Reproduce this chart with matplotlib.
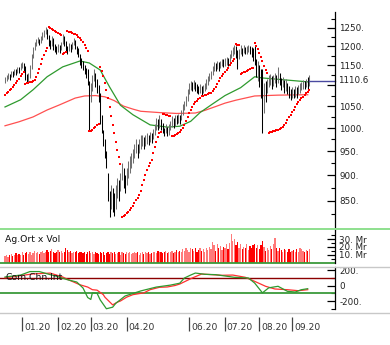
import matplotlib
matplotlib.use("Agg")
import matplotlib.pyplot as plt
from matplotlib.lines import Line2D
from matplotlib.ticker import FixedLocator, FixedFormatter, NullFormatter
import matplotlib.transforms as mtransforms
import numpy as np

# ---------------- data (one value per trading day) ----------------
closes = [
    1112, 1118, 1125, 1120, 1130, 1128, 1135, 1132, 1140, 1138,
    1148, 1152, 1145, 1125, 1112, 1120, 1140, 1170, 1190, 1205,
    1212, 1218, 1210, 1222, 1230, 1238, 1245, 1232, 1215, 1205,
    1220, 1200, 1195, 1190, 1198, 1192, 1205, 1225, 1215, 1198,
    1190, 1200, 1195, 1205, 1215, 1205, 1190, 1185, 1165, 1155,
    1148, 1138, 1130, 1120, 1060, 1090, 1115, 1125, 1110, 1095,
    1085, 1050, 1010, 975, 955, 930, 870, 840, 860, 850,
    835, 860, 880, 870, 895, 910, 890, 880, 900, 915,
    925, 935, 945, 955, 960, 950, 965, 970, 975, 968,
    975, 980, 972, 985, 978, 990, 1000, 1010, 1005, 1015,
    1010, 995, 990, 1000, 992, 998, 1008, 1015, 1010, 1020,
    1018, 1025, 1020, 1030, 1045, 1055, 1065, 1080, 1095, 1100,
    1095, 1105, 1098, 1090, 1088, 1095, 1085, 1092, 1098, 1105,
    1115, 1122, 1128, 1140, 1148, 1145, 1152, 1145, 1155, 1158,
    1152, 1160, 1165, 1158, 1170, 1180, 1188, 1195, 1185, 1165,
    1180, 1190, 1185, 1195, 1188, 1192, 1198, 1190, 1185, 1175,
    1160, 1130, 1145, 1120, 1080, 1050, 1090, 1085, 1100, 1110,
    1118, 1105, 1112, 1120, 1108, 1125, 1115, 1100, 1108, 1095,
    1100, 1092, 1080, 1075, 1085, 1078, 1088, 1082, 1092, 1095,
    1098, 1105, 1100, 1108, 1102, 1110.6,
]
highs = [
    1120, 1125, 1130, 1128, 1136, 1135, 1140, 1140, 1145, 1145,
    1155, 1158, 1155, 1148, 1128, 1130, 1150, 1178, 1198, 1212,
    1220, 1225, 1220, 1228, 1238, 1245, 1252, 1248, 1230, 1218,
    1228, 1222, 1205, 1200, 1205, 1202, 1212, 1232, 1228, 1215,
    1200, 1208, 1205, 1212, 1222, 1218, 1200, 1195, 1180, 1168,
    1160, 1150, 1142, 1140, 1110, 1105, 1125, 1140, 1130, 1115,
    1100, 1080, 1030, 995, 975, 950, 905, 870, 880, 875,
    865, 880, 895, 890, 905, 925, 915, 900, 915, 930,
    940, 945, 955, 965, 975, 965, 975, 985, 985, 980,
    985, 990, 985, 992, 990, 998, 1010, 1022, 1020, 1030,
    1020, 1012, 1000, 1008, 1003, 1008, 1015, 1028, 1022, 1030,
    1030, 1032, 1030, 1040, 1055, 1062, 1075, 1090, 1105, 1110,
    1108, 1112, 1108, 1102, 1098, 1102, 1098, 1100, 1105, 1115,
    1122, 1130, 1135, 1148, 1158, 1155, 1160, 1158, 1162, 1165,
    1165, 1168, 1172, 1170, 1178, 1190, 1198, 1202, 1200, 1190,
    1192, 1204, 1195, 1202, 1198, 1200, 1204, 1200, 1198, 1195,
    1200, 1165, 1160, 1150, 1140, 1140, 1105, 1110, 1115, 1125,
    1128, 1122, 1125, 1130, 1125, 1145, 1130, 1118, 1120, 1112,
    1115, 1105, 1098, 1092, 1095, 1090, 1098, 1095, 1100, 1105,
    1108, 1112, 1110, 1115, 1120, 1125,
]
lows = [
    1105, 1110, 1115, 1112, 1120, 1120, 1125, 1125, 1130, 1130,
    1138, 1142, 1135, 1112, 1106, 1108, 1118, 1140, 1168, 1190,
    1200, 1208, 1202, 1208, 1218, 1225, 1232, 1220, 1200, 1192,
    1200, 1190, 1185, 1180, 1185, 1182, 1190, 1205, 1200, 1188,
    1180, 1188, 1185, 1192, 1202, 1192, 1180, 1172, 1150, 1142,
    1138, 1128, 1118, 1100, 993, 1060, 1085, 1110, 1095, 1080,
    1060, 1010, 990, 960, 935, 915, 850, 820, 835, 830,
    822, 835, 855, 850, 870, 890, 875, 865, 880, 895,
    905, 915, 925, 935, 945, 935, 945, 955, 960, 955,
    960, 965, 962, 970, 968, 975, 985, 995, 995, 1000,
    995, 988, 982, 988, 983, 985, 995, 1002, 1000, 1005,
    1008, 1012, 1010, 1018, 1030, 1040, 1050, 1062, 1078, 1088,
    1085, 1090, 1085, 1080, 1078, 1082, 1075, 1080, 1085, 1090,
    1100, 1110, 1115, 1125, 1135, 1135, 1140, 1135, 1142, 1148,
    1145, 1148, 1152, 1148, 1155, 1168, 1175, 1180, 1170, 1140,
    1165, 1178, 1175, 1182, 1178, 1180, 1185, 1178, 1172, 1160,
    1150, 1120, 1110, 1095, 1070, 990, 1035, 1060, 1080, 1095,
    1100, 1092, 1098, 1105, 1095, 1105, 1100, 1088, 1095, 1080,
    1085, 1078, 1068, 1065, 1070, 1068, 1072, 1070, 1078, 1082,
    1088, 1092, 1090, 1095, 1092, 1098,
]
sar = [
    1076, 1080, 1084, 1088, 1092, 1096, 1101, 1106, 1111, 1116, 1122, 1128, 1134,
    1104, 1105, 1106, 1107, 1109, 1111, 1114, 1120, 1130, 1141, 1153, 1165, 1177, 1188, 1196,
    1252, 1250, 1248, 1245, 1242, 1239, 1236, 1233, 1230,
    1180, 1182, 1185,
    1240, 1239, 1238, 1236, 1234, 1232, 1229, 1226, 1222, 1217, 1211, 1204, 1196, 1187,
    993, 994, 996, 999, 1002, 1006, 1010,
    1145, 1135, 1122, 1106, 1088, 1068, 1047, 1026, 1006, 988, 970, 953, 937, 923,
    820, 822, 824, 827, 830, 833, 837, 841, 846, 851, 856, 862, 870, 880, 890, 900,
    910, 918, 925, 932, 945, 958, 970, 980, 988, 992,
    1032, 1031, 1030, 1029, 1028, 1027,
    982, 983, 984, 986, 988, 991, 995, 1000, 1007, 1015, 1024, 1033, 1041, 1048,
    1054, 1059, 1063, 1066, 1070, 1073, 1075, 1076, 1077, 1078, 1080, 1082, 1085,
    1090, 1096, 1103, 1110, 1117, 1124, 1128, 1132, 1138, 1143, 1150, 1156, 1162, 1166,
    1205, 1204, 1202,
    1128, 1130, 1132, 1134, 1136, 1138, 1140, 1142, 1144,
    1208, 1200, 1192, 1182, 1172, 1160, 1148, 1138, 1130,
    990, 991, 992, 993, 994, 995, 996, 998, 1000, 1003, 1007, 1012, 1018, 1024,
    1030, 1036, 1042, 1048, 1054, 1059, 1064, 1068, 1072, 1076, 1080, 1084, 1088,
]
volume = [  # millions
    8, 10, 7, 9, 11, 8, 10, 12, 9, 11, 10, 13, 9, 12, 14, 11, 13, 10, 12, 15,
    12, 14, 11, 13, 15, 12, 14, 16, 13, 15, 17, 13, 12, 14, 16, 13, 15, 12, 14, 18,
    16, 13, 15, 12, 14, 13, 15, 12, 14, 13, 12, 14, 11, 13, 15, 12, 14, 11, 13, 12,
    11, 13, 12, 14, 10, 12, 13, 11, 14, 12, 13, 11, 12, 14, 10, 13, 12, 11, 14, 12,
    13, 11, 12, 14, 12, 13, 10, 12, 13, 11, 14, 12, 13, 11, 12, 14, 13, 12, 15, 13,
    14, 12, 13, 15, 12, 14, 13, 15, 12, 14, 16, 13, 15, 14, 17, 15, 18, 16, 14, 19,
    17, 15, 18, 14, 16, 19, 15, 17, 14, 18, 16, 20, 17, 26, 22, 15, 24, 18, 21, 16,
    20, 18, 23, 17, 25, 36, 28, 30, 22, 26, 18, 24, 17, 20, 19, 23, 16, 21, 18, 22,
    24, 19, 22, 17, 22, 27, 20, 15, 18, 16, 21, 17, 23, 31, 19, 15, 18, 16, 14, 17,
    16, 14, 17, 13, 15, 16, 14, 17, 13, 19, 17, 15, 14, 16, 15, 17,
]
ma50_day = [0, 10, 18, 27, 37, 48, 54, 61, 67, 74, 82, 93, 104, 112, 119, 125, 133,
            141, 151, 160, 165, 180, 195]
ma50_val = [1048, 1065, 1089, 1121, 1146, 1161, 1156, 1138, 1096, 1052, 1030, 1007,
            1002, 1004, 1015, 1035, 1055, 1075, 1094, 1121, 1118, 1113, 1108]
ma200_day = [0, 9, 18, 27, 35, 45, 51, 58, 64, 70, 76, 82, 87, 99, 110, 122, 128, 135,
             141, 148, 154, 160, 175, 194]
ma200_val = [1005, 1014, 1025, 1041, 1053, 1069, 1074, 1075, 1072, 1063, 1050, 1043,
             1038, 1035, 1033, 1034, 1040, 1049, 1057, 1064, 1069, 1074, 1076, 1077]
cci_day = [0, 10, 16, 22, 29, 33, 40, 46, 50, 53, 55, 56, 59, 61, 65, 69, 71, 77, 87,
           97, 106, 112, 115, 119, 122, 128, 135, 147, 156, 160, 165, 169, 175, 181,
           186, 190, 194]
cci_val = [110, 135, 180, 180, 140, 120, 75, 45, -32, -155, -180, -95, -100, -185,
           -300, -280, -230, -135, -70, -20, 5, 30, 97, 135, 161, 145, 140, 106, 97,
           32, -95, -30, -10, -75, -84, -54, -41]
sig_day = [0, 18, 29, 37, 40, 48, 53, 56, 59, 63, 64, 69, 72, 74, 78, 82, 89, 93, 99,
           104, 109, 112, 120, 126, 139, 146, 154, 160, 167, 173, 181, 188, 194]
sig_val = [100, 150, 160, 110, 80, 10, -20, -54, -60, -118, -150, -250, -215, -200,
           -150, -118, -95, -54, -23, -19, 0, 19, 97, 148, 132, 135, 106, 54, -10,
           -45, -54, -67, -54]
month_day = [11, 34, 55, 78, 118, 141, 163, 184]
month_lbl = ["01.20", "02.20", "03.20", "04.20", "06.20", "07.20", "08.20", "09.20"]
price_ticks = [850, 900, 950, 1000, 1050, 1100, 1150, 1200, 1250]
vol_ticks = [10, 20, 30]
osc_ticks = [-200, 0, 200]
last_price = 1110.6

# ---------------- layout (pixel boxes) ----------------
W, H = 390, 345
fig = plt.figure(figsize=(W / 100, H / 100), dpi=100)
XL = (-3.2, 211.5)
TXT = "#222222"
FS = 6.3


def px_axes(x0, y0, x1, y1):
    ax = fig.add_axes([x0 / W, 1 - y1 / H, (x1 - x0) / W, (y1 - y0) / H])
    ax.set_xlim(*XL)
    ax.patch.set_alpha(0)
    for s in ("left", "top", "bottom"):
        ax.spines[s].set_visible(False)
    ax.spines["right"].set_linewidth(0.9)
    ax.set_xticks([])
    ax.yaxis.tick_right()
    ax.tick_params(axis="y", which="major", direction="in", length=6, width=0.9,
                   pad=3, labelsize=FS, labelcolor=TXT)
    ax.tick_params(axis="y", which="minor", direction="in", length=3, width=0.8)
    return ax


days = np.arange(len(closes))
up = [i == 0 or closes[i] >= closes[i - 1] for i in range(len(closes))]

# ---- price panel ----
ax = px_axes(0, 12, 335, 229)
ax.set_yscale("log")
ax.set_ylim(798.5, 1295)
ax.yaxis.set_major_locator(FixedLocator(price_ticks))
ax.yaxis.set_major_formatter(FixedFormatter(
    ["" if t == 1100 else f"{t}." for t in price_ticks]))
ax.yaxis.set_minor_locator(FixedLocator([t - 25 for t in price_ticks] + [1275]))
ax.yaxis.set_minor_formatter(NullFormatter())
ax.plot(ma200_day, ma200_val, color="#ff5050", lw=0.9)
ax.plot(ma50_day, ma50_val, color="#2e9a2e", lw=0.9)
ax.vlines(days, lows, highs, colors=["#707070" if u else "#000000" for u in up], lw=0.75)
ax.plot(days, sar, ls="none", marker="s", ms=1.6, mew=0, color="#ff0000")
ax.plot([days[-1], XL[1]], [last_price, last_price], color="#4a4aa0", lw=1.0, clip_on=False)
tr = mtransforms.blended_transform_factory(ax.transAxes, ax.transData)
ax.text(1 + 3 / 335, last_price, f"{last_price}", transform=tr, fontsize=FS, color=TXT,
        va="center", ha="left", bbox=dict(fc="white", ec="none", pad=0.3))

# ---- volume panel ----
av = px_axes(0, 230, 335, 262.5)
av.set_ylim(0, 41.5)
av.bar(days, volume, width=0.8, color=["#ff7a7a" if u else "#ff0000" for u in up], lw=0)
av.axhline(0, color="#3a9a3a", lw=1.3, clip_on=False)
av.yaxis.set_major_locator(FixedLocator(vol_ticks))
av.yaxis.set_major_formatter(FixedFormatter([f"{t}. Mr" for t in vol_ticks]))
av.yaxis.set_minor_locator(FixedLocator([5, 15, 25, 35]))
av.yaxis.set_minor_formatter(NullFormatter())
av.text(5 / 335, 0.7, "Ag.Ort x Vol", transform=av.transAxes, fontsize=FS + 0.4,
        color="#111111", va="center", ha="left")

# ---- oscillator panel ----
ao = px_axes(0, 267, 335, 312)
ao.set_ylim(-342, 239)
ao.axhline(100, color="#8b0000", lw=1.0)
ao.axhline(-100, color="#3a9a3a", lw=1.3)
ao.plot(sig_day, sig_val, color="#ff3030", lw=0.9)
ao.plot(cci_day, cci_val, color="#2e9a2e", lw=0.9)
ao.yaxis.set_major_locator(FixedLocator(osc_ticks))
ao.yaxis.set_major_formatter(FixedFormatter(["-200.", "0", "200."]))
ao.yaxis.set_minor_locator(FixedLocator([-300, -100, 100]))
ao.yaxis.set_minor_formatter(NullFormatter())
ao.spines["right"].set_bounds(-300, 239)
ao.text(5 / 335, 100, "Com.Chn.Int", transform=mtransforms.blended_transform_factory(
    ao.transAxes, ao.transData), fontsize=FS + 0.4, color="#111111", va="center", ha="left")

# ---- date strip ----
ad = px_axes(0, 313, 335, 345)
ad.spines["right"].set_visible(False)
ad.set_yticks([])
ad.set_ylim(0, 1)
ad.vlines(month_day, 0.44, 0.88, color="#444444", lw=0.9)
for d, lbl in zip(month_day, month_lbl):
    ad.text(d + 1.2, 0.56, lbl, fontsize=FS + 0.3, color="#333333", va="center", ha="left")

# ---- panel separators ----
for y, c, lw in [(229, "#8ee08e", 1.4), (266.5, "#c8c8c8", 1.0), (312.5, "#c8c8c8", 1.0)]:
    fig.add_artist(Line2D([0, 1], [1 - y / H, 1 - y / H], transform=fig.transFigure,
                          color=c, lw=lw))

fig.savefig("out.png", dpi=100)
